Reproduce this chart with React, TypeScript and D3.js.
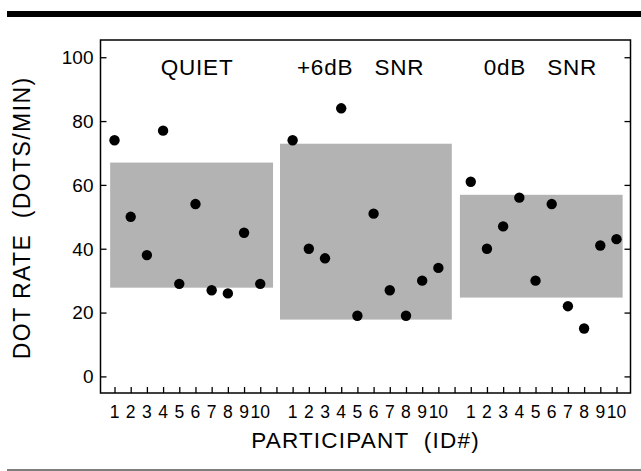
import React, { useEffect, useRef } from 'react';
import * as d3 from 'd3';

// condition names shown above each block
const conditions = ['QUIET', '+6dB   SNR', '0dB   SNR'];
// where each condition name is centred, in x-axis units
const conditionAt = [6.1, 16.2, 27.3];
const participants = [1, 2, 3, 4, 5, 6, 7, 8, 9, 10];

// dot rate per participant (dots/min), one array per condition
const quietRates = [74, 50, 38, 77, 29, 54, 27, 26, 45, 29];
const snr6Rates = [74, 40, 37, 84, 19, 51, 27, 19, 30, 34];
const snr0Rates = [61, 40, 47, 56, 30, 54, 22, 15, 41, 43];

// shaded range per condition (low / high, dots/min)
const rangeLow = [27.8, 17.8, 24.7];
const rangeHigh = [67, 72.9, 56.9];
// horizontal extent of the shaded range, in x-axis units
const rangeFrom = [0.73, 11.22, 22.33];
const rangeTo = [10.79, 21.83, 32.38];

const yTicks = [0, 20, 40, 60, 80, 100];

const App = () => {
  const chartRef = useRef<SVGSVGElement>(null);

  useEffect(() => {
    const svg = d3.select(chartRef.current);
    svg.selectAll('*').remove();

    const width = 641;
    const font = '"Liberation Sans", Arial, sans-serif';
    const plot = { left: 100.5, right: 630.5, top: 40, bottom: 393 };

    const groups = [quietRates, snr6Rates, snr0Rates];
    // each group takes 10 slots plus one empty slot between groups
    const points = groups.flatMap((vals, g) =>
      vals.map((v, i) => ({ x: g * 11 + participants[i], label: participants[i], v }))
    );
    const slots = d3.range(1, 33);

    const x = d3.scaleLinear().domain([0.135, 32.865]).range([plot.left, plot.right]);
    const y = d3.scaleLinear().domain([-5.2, 105.4]).range([plot.bottom, plot.top]);

    // header rule and footer rule
    svg.append('rect').attr('x', 7).attr('y', 11).attr('width', width - 7).attr('height', 6).attr('fill', '#000');
    svg.append('line')
      .attr('x1', 7).attr('x2', width).attr('y1', 470).attr('y2', 470)
      .attr('stroke', '#000').attr('stroke-width', 1.2);

    // shaded ranges
    svg.append('g')
      .selectAll('rect')
      .data(conditions)
      .join('rect')
        .attr('x', (d, i) => x(rangeFrom[i]))
        .attr('width', (d, i) => x(rangeTo[i]) - x(rangeFrom[i]))
        .attr('y', (d, i) => y(rangeHigh[i]))
        .attr('height', (d, i) => y(rangeLow[i]) - y(rangeHigh[i]))
        .attr('fill', '#b3b3b3');

    // frame
    svg.append('rect')
      .attr('x', plot.left).attr('y', plot.top)
      .attr('width', plot.right - plot.left).attr('height', plot.bottom - plot.top)
      .attr('fill', 'none').attr('stroke', '#000').attr('stroke-width', 1.5);

    const tickLen = 6;
    const yAxis = g => g
      .attr('transform', `translate(${plot.left},0)`)
      .call(d3.axisRight(y).tickValues(yTicks).tickSize(tickLen).tickFormat(() => ''))
      .call(g => g.select('.domain').remove());
    const yAxisRight = g => g
      .attr('transform', `translate(${plot.right},0)`)
      .call(d3.axisLeft(y).tickValues(yTicks).tickSize(tickLen).tickFormat(() => ''))
      .call(g => g.select('.domain').remove());
    const xAxis = g => g
      .attr('transform', `translate(0,${plot.bottom})`)
      .call(d3.axisTop(x).tickValues(slots).tickSize(tickLen).tickFormat(() => ''))
      .call(g => g.select('.domain').remove());

    svg.append('g').call(yAxis).selectAll('line').attr('stroke-width', 1.3);
    svg.append('g').call(yAxisRight).selectAll('line').attr('stroke-width', 1.3);
    svg.append('g').call(xAxis).selectAll('line').attr('stroke-width', 1.3);

    // y tick labels
    svg.append('g')
      .selectAll('text')
      .data(yTicks)
      .join('text')
        .attr('x', plot.left - 7)
        .attr('y', d => y(d))
        .attr('dy', '0.36em')
        .attr('text-anchor', 'end')
        .attr('font-family', font)
        .attr('font-size', 19)
        .text(d => d);

    // x tick labels (participant ids)
    svg.append('g')
      .selectAll('text')
      .data(points)
      .join('text')
        .attr('x', d => x(d.x))
        .attr('y', 418)
        .attr('text-anchor', 'middle')
        .attr('font-family', font)
        .attr('font-size', 17.5)
        .text(d => d.label);

    // dots
    svg.append('g')
      .selectAll('circle')
      .data(points)
      .join('circle')
        .attr('cx', d => x(d.x))
        .attr('cy', d => y(d.v))
        .attr('r', 5.2)
        .attr('fill', '#000');

    // condition titles
    svg.append('g')
      .selectAll('text')
      .data(conditions)
      .join('text')
        .attr('x', (d, i) => x(conditionAt[i]))
        .attr('y', 75)
        .attr('text-anchor', 'middle')
        .attr('font-family', font)
        .attr('font-size', 22.5)
        .attr('letter-spacing', 0.8)
        .style('white-space', 'pre')
        .text(d => d);

    // axis titles
    svg.append('text')
      .attr('x', x(16.5))
      .attr('y', 448)
      .attr('text-anchor', 'middle')
      .attr('font-family', font)
      .attr('font-size', 22.5)
      .attr('letter-spacing', 1.2)
      .style('white-space', 'pre')
      .text('PARTICIPANT  (ID#)');

    svg.append('text')
      .attr('transform', `translate(30,${(y(0) + y(100)) / 2 + 1}) rotate(-90)`)
      .attr('text-anchor', 'middle')
      .attr('font-family', font)
      .attr('font-size', 23)
      .attr('letter-spacing', 1.4)
      .style('white-space', 'pre')
      .text('DOT RATE  (DOTS/MIN)');
  }, []);

  return (
    <svg
      ref={chartRef}
      width="641"
      height="471"
      style={{ position: 'absolute', left: 0, top: 0, background: '#fff' }}
    ></svg>
  );
};

export default App;
